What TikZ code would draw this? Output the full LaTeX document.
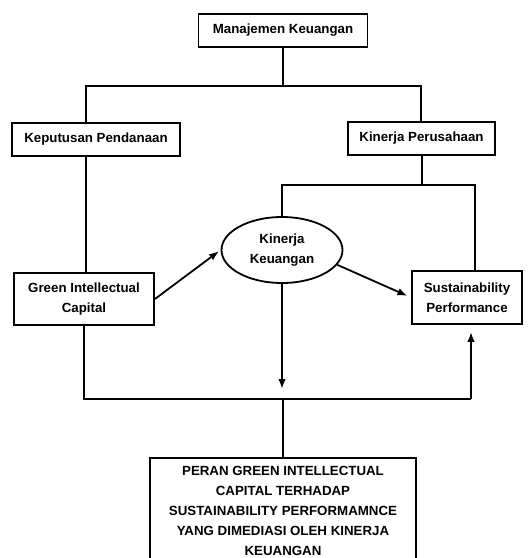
\documentclass[tikz,border=0pt]{standalone}
\usepackage{fontspec}
\setmainfont{Liberation Sans}
\usetikzlibrary{shapes.geometric,arrows.meta}
\begin{document}
\begin{tikzpicture}[x=1pt,y=-1pt,line width=1.8pt,
  box/.style={shape=rectangle,draw,align=center,inner sep=0pt,font=\bfseries\fontsize{13.3}{20}\selectfont},
  arr/.style={-{Latex[length=10pt,width=7.5pt]}}]
\clip (0,0) rectangle (532,558);
\node[box,minimum width=169pt,minimum height=33pt](MK) at (283,30.5){Manajemen Keuangan};

\node[box,minimum width=168pt,minimum height=33pt](KP) at (96,139.5){Keputusan Pendanaan};
\node[box,minimum width=147pt,minimum height=33pt](KPR) at (421.5,138.5){Kinerja Perusahaan};

\node[box,minimum width=140pt,minimum height=52pt](GIC) at (84,299){Green Intellectual\\Capital};
\node[box,ellipse,minimum width=121pt,minimum height=66pt](KK) at (282,250){Kinerja\\Keuangan};
\node[box,minimum width=110pt,minimum height=53pt](SP) at (467,297.5){Sustainability\\Performance};

\node[box,anchor=north,minimum width=266pt,minimum height=106pt,text depth=0pt](PERAN) at (283,457){PERAN GREEN INTELLECTUAL\\CAPITAL TERHADAP\\SUSTAINABILITY PERFORMAMNCE\\YANG DIMEDIASI OLEH KINERJA\\KEUANGAN};

% junctions
\coordinate (jl) at (86,86);
\coordinate (jr) at (421,86);
\coordinate (jm) at (422,185);
\coordinate (jsr) at (475,185);
\coordinate (jbl) at (84,399);
\coordinate (jbr) at (471,399);

\draw (MK) -- (MK |- jl);
\draw (KP.north -| jl) -- (jl) -- (jr) -- (KPR.north -| jr);
\draw (KP.south -| jl) -- (GIC.north -| jl);

\draw (KPR.south -| jm) -- (jm);
\draw (KK.north) |- (jsr) -- (SP.north -| jsr);

\draw[arr,shorten >=2pt] (GIC.east) -- (KK.west);
\draw[arr,shorten >=4pt] (KK.-15) -- (SP.west);
\draw[arr,shorten >=10pt] (KK.south) -- (KK.south |- jbl);

\draw (GIC.south) -- (jbl) -- (jbr);
\draw[arr,shorten >=7pt] (jbr) -- (SP.south -| jbr);
\draw (PERAN.north |- jbl) -- (PERAN.north);
\end{tikzpicture}
\end{document}
